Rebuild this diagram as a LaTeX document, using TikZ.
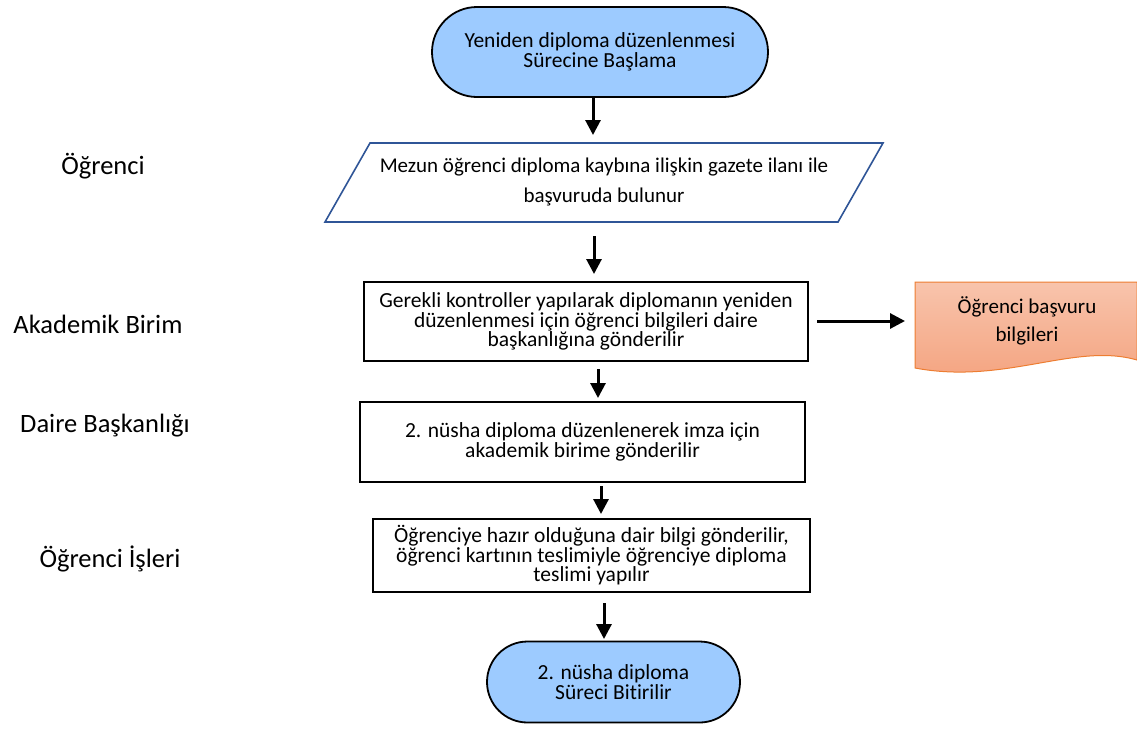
\documentclass[tikz,border=0pt]{standalone}
\usepackage{fontspec}
\setmainfont{Carlito}[RawFeature=-liga]
\usetikzlibrary{shapes.misc,shapes.geometric,arrows.meta}
\definecolor{termblue}{RGB}{157,203,255}
\definecolor{parblue}{RGB}{47,85,151}
\definecolor{docorange}{RGB}{237,125,49}
\definecolor{doctop}{RGB}{248,196,172}
\definecolor{docbot}{RGB}{244,162,126}
\begin{document}
\begin{tikzpicture}[x=1pt,y=-1pt,
  term/.style={rounded rectangle, draw=black, line width=1.8pt, fill=termblue,
    inner sep=0pt, align=center, font=\fontsize{21.5}{19.5}\selectfont},
  procbox/.style={rectangle, draw=black, line width=1.8pt, inner sep=0pt,
    align=center, font=\fontsize{21.5}{19.5}\selectfont},
  lane/.style={font=\fontsize{26.5}{28}\selectfont},
  flow/.style={line width=3pt, -{Triangle[length=15pt,width=15pt]}}]
\useasboundingbox (0,0) rectangle (1137,729);
% terminators
\node[term, minimum width=336pt, minimum height=90pt] (start) at (600,52)
  {Yeniden diploma düzenlenmesi\\Sürecine Başlama};
% parallelogram
\coordinate (p1) at (370,143);
\coordinate (p2) at (883,143);
\coordinate (p3) at (838,222);
\coordinate (p4) at (325,222);
\draw[parblue, line width=1.6pt, fill=white] (p1) -- (p2) -- (p3) -- (p4) -- cycle;
\node[font=\fontsize{21}{30}\selectfont, align=center] (par) at (604,182)
  {Mezun öğrenci diploma kaybına ilişkin gazete ilanı ile\\başvuruda bulunur};
\node[procbox, minimum width=444pt, minimum height=79pt] (b1) at (586,321.5)
  {Gerekli kontroller yapılarak diplomanın yeniden\\düzenlenmesi için öğrenci bilgileri daire\\başkanlığına gönderilir};
\node[procbox, minimum width=445pt, minimum height=80pt] (b2) at (582.5,442)
  {2. nüsha diploma düzenlenerek imza için\\akademik birime gönderilir};
\node[procbox, minimum width=437pt, minimum height=73pt] (b3) at (591.5,555.5)
  {Öğrenciye hazır olduğuna dair bilgi gönderilir,\\öğrenci kartının teslimiyle öğrenciye diploma\\teslimi yapılır};
\node[term, minimum width=253pt, minimum height=81pt] (end) at (613.5,682)
  {2. nüsha diploma\\Süreci Bitirilir};
% document shape
\shade[top color=doctop, bottom color=docbot, draw=docorange, line width=1pt]
  (915,282) -- (1137,282) -- (1137,360)
  .. controls (1075,342) and (1005,385) .. (915,368) -- cycle;
\node[font=\fontsize{21}{28}\selectfont, align=center] (doc) at (1027,321)
  {Öğrenci başvuru\\bilgileri};
% lane labels
\node[lane] (l1) at (103,166) {Öğrenci};
\node[lane] (l2) at (98,324) {Akademik Birim};
\node[lane] (l3) at (105,426) {Daire Başkanlığı};
\node[lane] (l4) at (110,559) {Öğrenci İşleri};
% connectors
\coordinate (a1s) at (593,97);  \coordinate (a1e) at (593,135);
\coordinate (a2s) at (594,236); \coordinate (a2e) at (594,274);
\coordinate (a3s) at (598,369); \coordinate (a3e) at (598,398);
\coordinate (a4s) at (601,486); \coordinate (a4e) at (601,514);
\coordinate (a5s) at (604,603); \coordinate (a5e) at (604,639);
\coordinate (a6s) at (817,321); \coordinate (a6e) at (905,321);
\draw[flow] (a1s) -- (a1e);
\draw[flow] (a2s) -- (a2e);
\draw[flow] (a3s) -- (a3e);
\draw[flow] (a4s) -- (a4e);
\draw[flow] (a5s) -- (a5e);
\draw[flow] (a6s) -- (a6e);
\end{tikzpicture}
\end{document}
